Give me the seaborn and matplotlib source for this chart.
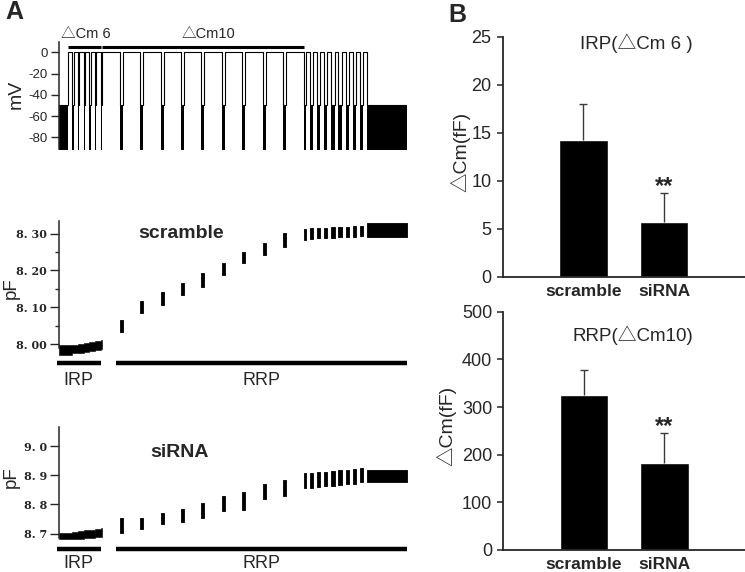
import numpy as np
import pandas as pd
import matplotlib
matplotlib.use("Agg")
import matplotlib.pyplot as plt
import seaborn as sns

# --- stimulation protocol (ms / mV) ---
pulse_ms = [42] * 6 + [175] * 10 + [38] * 9
gap_ms = [90] + [15] * 5 + [15] + [30] * 9 + [20] + [34] * 8 + [400]
hold_mv = -80
sine_amp_mv = 30
pulse_mv = 0

# pool bars under the capacitance traces (ms)
irp_bar_ms = [-25, 420]
rrp_bar_ms = [575, 3486]

# --- membrane capacitance in each inter-pulse interval (pF): low / high edge ---
scr_lo = [7.972, 7.975, 7.977, 7.979, 7.981, 7.984, 7.986,
          8.034, 8.084, 8.107, 8.134, 8.156, 8.188, 8.220, 8.242, 8.265,
          8.284, 8.286, 8.287, 8.288, 8.289, 8.290, 8.291, 8.292, 8.293,
          8.292]
scr_hi = [7.997, 7.999, 8.001, 8.004, 8.007, 8.010, 8.012,
          8.066, 8.116, 8.143, 8.165, 8.193, 8.221, 8.251, 8.274, 8.303,
          8.312, 8.314, 8.315, 8.316, 8.317, 8.318, 8.319, 8.320, 8.321,
          8.328]
sir_lo = [8.680, 8.681, 8.683, 8.684, 8.686, 8.687, 8.688,
          8.701, 8.715, 8.732, 8.741, 8.755, 8.779, 8.781, 8.818, 8.829,
          8.856, 8.858, 8.860, 8.862, 8.864, 8.866, 8.869, 8.872, 8.876,
          8.876]
sir_hi = [8.703, 8.706, 8.709, 8.711, 8.714, 8.716, 8.720,
          8.753, 8.755, 8.772, 8.785, 8.804, 8.829, 8.843, 8.870, 8.884,
          8.907, 8.909, 8.911, 8.913, 8.915, 8.917, 8.919, 8.921, 8.924,
          8.918]
n_irp_gaps = 7  # intervals that belong to the IRP part of the trace

# --- panel B summary (mean, SEM) ---
groups = ["scramble", "siRNA"]
irp_mean = [14.2, 5.7]
irp_sem = [3.8, 3.05]
rrp_mean = [326, 182]
rrp_sem = [52, 64]

sns.set_theme(style="ticks")
plt.rcParams["font.family"] = ["Liberation Sans", "Noto Sans CJK SC", "DejaVu Sans"]
plt.rcParams["axes.unicode_minus"] = False

W, H = 745, 572
fig = plt.figure(figsize=(W / 100, H / 100), dpi=100)


def px_axes(l, t, r, b):
    return fig.add_axes([l / W, 1 - b / H, (r - l) / W, (b - t) / H])


# timeline from the protocol
gap_start, gap_end, p_start, p_end = [], [], [], []
t = 0
for i, g in enumerate(gap_ms):
    gap_start.append(t)
    t += g
    gap_end.append(t)
    if i < len(pulse_ms):
        p_start.append(t)
        t += pulse_ms[i]
        p_end.append(t)
t_total = t

# ================= A: voltage protocol =================
ax0 = px_axes(59, 41.7, 407, 149)
top_mv = hold_mv + sine_amp_mv
tl, vl = [], []
for i in range(len(gap_ms)):
    ax0.fill_between([gap_start[i], gap_end[i]], hold_mv - sine_amp_mv, top_mv,
                     color="black", lw=0)
    tl += [gap_start[i], gap_end[i]]
    vl += [top_mv, top_mv]
    if i < len(pulse_ms):
        tl += [p_start[i], p_end[i]]
        vl += [pulse_mv, pulse_mv]
ax0.plot(tl, vl, color="black", lw=0.8)
ax0.set_xlim(0, t_total)
ax0.set_ylim(-91, 10)
ax0.set_yticks([0, -20, -40, -60, -80])
ax0.set_yticklabels(["0", "-20", "-40", "-60", "-80"], fontsize=9.5)
ax0.set_xticks([])
for s in ["top", "right", "bottom"]:
    ax0.spines[s].set_visible(False)
ax0.spines["left"].set_linewidth(1.1)
ax0.tick_params(axis="y", length=6, width=1.0, pad=2)
ax0.set_ylabel("mV", fontsize=14)
ax0.yaxis.set_label_coords(-0.098, 0.51)

tr = ax0.get_xaxis_transform()
irp_pulses = (p_start[0], p_end[5])
rrp_pulses = (p_start[6], p_end[15])
for span in (irp_pulses, rrp_pulses):
    ax0.plot(span, [0.953, 0.953], transform=tr, color="black", lw=2.2,
             clip_on=False, solid_capstyle="butt")
ax0.text(np.mean(irp_pulses) + 20, 1.075, "△Cm 6", transform=tr, ha="center",
         va="center", fontsize=10.5)
ax0.text(np.mean(rrp_pulses) + 50, 1.075, "△Cm10", transform=tr, ha="center",
         va="center", fontsize=10.5)


def cm_panel(ax, lo, hi, ylim, ticks, labels, minor, name, name_xy, bar_y, lab_y):
    # IRP part drawn as one trace, later intervals as separate segments
    ts = gap_start[:n_irp_gaps] + [gap_end[n_irp_gaps - 1]]
    ax.fill_between(ts, lo[:n_irp_gaps] + [lo[n_irp_gaps - 1]],
                    hi[:n_irp_gaps] + [hi[n_irp_gaps - 1]],
                    step="post", color="black", lw=0.4, clip_on=False)
    for i in range(n_irp_gaps, len(gap_ms)):
        ax.fill_between([gap_start[i], gap_end[i]], lo[i], hi[i],
                        color="black", lw=0.6, clip_on=False)
    ax.set_xlim(0, t_total)
    ax.set_ylim(*ylim)
    ax.set_yticks(ticks)
    ax.set_yticklabels(labels, fontsize=8, family="DejaVu Serif", fontweight="bold")
    if minor:
        ax.set_yticks(minor, minor=True)
    ax.tick_params(axis="y", which="major", length=6.5, width=1.0, pad=2)
    ax.tick_params(axis="y", which="minor", length=3, width=1.0)
    ax.set_xticks([])
    for s in ["top", "right", "bottom"]:
        ax.spines[s].set_visible(False)
    ax.spines["left"].set_linewidth(1.1)
    ax.set_ylabel("pF", fontsize=13.5)
    ax.text(name_xy[0], name_xy[1], name, transform=ax.transAxes, ha="center",
            va="center", fontsize=14, fontweight="bold")
    trx = ax.get_xaxis_transform()
    for span, lab in ((irp_bar_ms, "IRP"), (rrp_bar_ms, "RRP")):
        ax.plot(span, [bar_y, bar_y], transform=trx, color="black",
                lw=3.2, clip_on=False, solid_capstyle="butt")
        ax.text(np.mean(span), lab_y, lab, transform=trx,
                ha="center", va="center", fontsize=13)


ax1 = px_axes(59, 220.7, 407, 348.3)
cm_panel(ax1, scr_lo, scr_hi, (7.989, 8.335), [8.0, 8.1, 8.2, 8.3],
         ["8. 00", "8. 10", "8. 20", "8. 30"], [8.05, 8.15, 8.25],
         "scramble", (0.35, 0.9), -0.118, -0.256)
ax1.yaxis.set_label_coords(-0.112, 0.47)

ax2 = px_axes(59, 426.7, 407, 538)
cm_panel(ax2, sir_lo, sir_hi, (8.685, 9.067), [8.7, 8.8, 8.9, 9.0],
         ["8. 7", "8. 8", "8. 9", "9. 0"], None,
         "siRNA", (0.347, 0.77), -0.1015, -0.225)
ax2.yaxis.set_label_coords(-0.112, 0.55)


# ================= B: bar charts =================
def bar_panel(ax, mean, sem, ylim, step, title, title_xy, ylab_x):
    df = pd.DataFrame({"group": groups, "dcm": mean})
    sns.barplot(data=df, x="group", y="dcm", color="black", width=0.6,
                saturation=1, errorbar=None, ax=ax)
    eb = ax.errorbar([0, 1], mean, yerr=[[0, 0], sem], fmt="none",
                     ecolor="#3a3a3a", elinewidth=1.0, capsize=2.6, capthick=1.0)
    eb[1][0].set_visible(False)
    ax.annotate("**", (1, mean[1] + sem[1]), xytext=(0, -4), textcoords="offset points",
                ha="center", va="bottom", fontsize=17, fontweight="bold")
    ax.set_xlim(-1, 2)
    ax.set_ylim(*ylim)
    ax.set_yticks(np.arange(ylim[0], ylim[1] + 1, step))
    ax.tick_params(axis="y", labelsize=13, length=4, width=1.1, pad=4)
    ax.tick_params(axis="x", labelsize=12.5, length=0, pad=5)
    for lab in ax.get_xticklabels():
        lab.set_fontweight("bold")
    for s in ["top", "right"]:
        ax.spines[s].set_visible(False)
    ax.spines["left"].set_linewidth(1.3)
    ax.spines["bottom"].set_linewidth(1.3)
    ax.set_xlabel("")
    ax.set_ylabel("△Cm(fF)", fontsize=14)
    ax.yaxis.set_label_coords(ylab_x, 0.52)
    ax.text(title_xy[0], title_xy[1], title, transform=ax.transAxes,
            ha="center", va="center", fontsize=13.5)


ax3 = px_axes(502.7, 36.7, 745, 276.7)
bar_panel(ax3, irp_mean, irp_sem, (0, 25), 5, "IRP(△Cm 6 )", (0.55, 0.974), -0.135)
ax4 = px_axes(503.3, 311.7, 745, 550)
bar_panel(ax4, rrp_mean, rrp_sem, (0, 500), 100, "RRP(△Cm10)", (0.537, 0.902), -0.196)

fig.text(14 / W, 1 - 12 / H, "A", ha="center", va="center", fontsize=18, fontweight="bold")
fig.text(457 / W, 1 - 15 / H, "B", ha="center", va="center", fontsize=18, fontweight="bold")

fig.savefig("out.png", dpi=100)
